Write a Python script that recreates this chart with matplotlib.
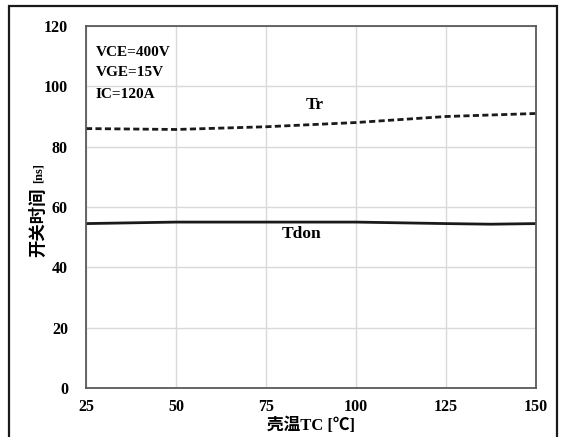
import matplotlib
matplotlib.use("Agg")
import matplotlib.pyplot as plt
from matplotlib.patches import Rectangle

temps = [25, 50, 75, 100, 125, 150]
tr_vals = [86.0, 85.7, 86.6, 88.0, 90.0, 91.0]
tdon_temps = [25, 50, 75, 100, 125, 137.5, 150]
tdon_vals = [54.5, 55.0, 55.0, 55.0, 54.5, 54.3, 54.5]
yticks = [0, 20, 40, 60, 80, 100, 120]
xticks = [25, 50, 75, 100, 125, 150]

serif = ['Liberation Serif', 'Noto Sans CJK SC', 'DejaVu Sans']
plt.rcParams['font.family'] = serif

W, H = 561, 437
fig = plt.figure(figsize=(W/100, H/100), dpi=100)
ax = fig.add_axes([86/W, 1-388/H, (536-86)/W, (388-26)/H])

ax.plot(temps, tr_vals, color='#1a1a1a', lw=2.0, ls=(0, (2.2, 1.2)))
ax.plot(tdon_temps, tdon_vals, color='#1a1a1a', lw=2.0)

ax.set_xlim(25, 150)
ax.set_ylim(0, 120)
ax.set_xticks(xticks)
ax.set_yticks(yticks)
ax.grid(True, color='#d9d9d9', lw=1.0)
ax.tick_params(axis='x', length=0, pad=8, labelsize=11.5)
ax.tick_params(axis='y', length=0, pad=13, labelsize=11.5)
for lab in ax.get_xticklabels() + ax.get_yticklabels():
    lab.set_fontweight('bold')
for s in ax.spines.values():
    s.set_color('#595959')
    s.set_linewidth(1.3)

for i, t in enumerate(['VCE=400V', 'VGE=15V', 'IC=120A']):
    fig.text(96/W, 1-(52+21*i)/H, t, fontsize=11, fontweight='bold', va='center', ha='left')
ax.text(88.5, 93.8, 'Tr', fontsize=12.5, fontweight='bold', ha='center', va='center')
ax.text(85, 51, 'Tdon', fontsize=12.5, fontweight='bold', ha='center', va='center')

fig.text(38/W, 1-222/H, '开关时间', rotation=90, fontsize=12.5, fontweight='bold',
         family=['Noto Sans CJK SC', 'DejaVu Sans'], ha='center', va='center')
fig.text(39/W, 1-173/H, '[ns]', rotation=90, fontsize=9, fontweight='bold',
         family=serif, ha='center', va='center')
fig.text(311/W, 1-426/H, '壳温TC [℃]', fontsize=12, fontweight='bold',
         family=serif, ha='center', va='center')

fig.patches.append(Rectangle((9/W, -0.05), (557-9)/W, 1-6/H+0.05, transform=fig.transFigure,
                             fill=False, ec='#1a1a1a', lw=1.6))
fig.savefig('out.png', dpi=100)
